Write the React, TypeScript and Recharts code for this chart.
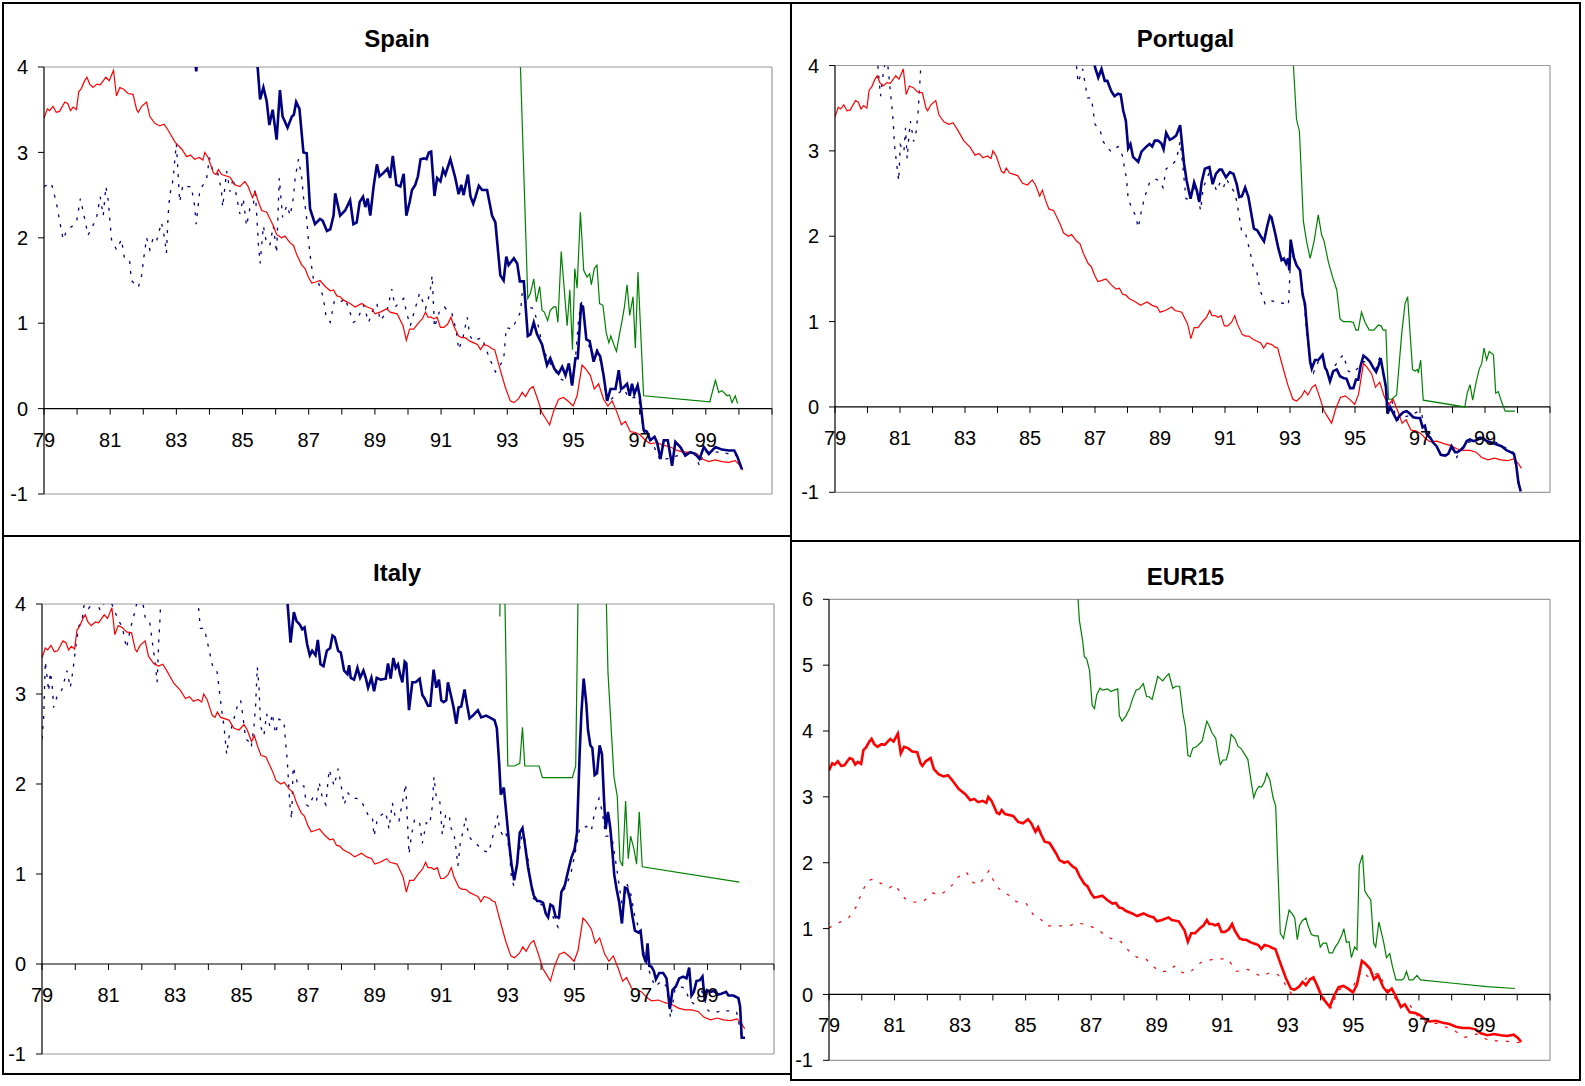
import React from 'react';
import { LineChart, Line, XAxis, YAxis, ReferenceLine } from 'recharts';

// [year, value] pairs, monthly-ish sampling
const convergence = [
  [1979.0, 3.4], [1979.1, 3.51], [1979.17, 3.49], [1979.27, 3.54], [1979.37, 3.47], [1979.47, 3.48], [1979.63, 3.59], [1979.72, 3.57], [1979.8, 3.49], [1979.88, 3.53], [1979.98, 3.5],
  [1980.05, 3.71], [1980.13, 3.75], [1980.23, 3.84], [1980.3, 3.88], [1980.38, 3.8], [1980.48, 3.76], [1980.6, 3.8], [1980.7, 3.79], [1980.87, 3.88], [1980.97, 3.84],
  [1981.1, 3.96], [1981.19, 3.66], [1981.29, 3.76], [1981.41, 3.74], [1981.54, 3.69], [1981.69, 3.68], [1981.8, 3.5], [1981.85, 3.47], [1981.95, 3.54],
  [1982.1, 3.59], [1982.2, 3.42], [1982.35, 3.34], [1982.5, 3.31], [1982.63, 3.33], [1982.75, 3.26], [1982.96, 3.12],
  [1983.16, 3.04], [1983.31, 2.95], [1983.43, 2.97], [1983.55, 2.92], [1983.69, 2.94], [1983.8, 2.91], [1983.86, 3.0], [1983.96, 2.94],
  [1984.12, 2.76], [1984.2, 2.74], [1984.27, 2.8], [1984.37, 2.74], [1984.62, 2.71], [1984.77, 2.62], [1984.92, 2.6],
  [1985.07, 2.66], [1985.17, 2.6], [1985.3, 2.47], [1985.38, 2.54], [1985.48, 2.42], [1985.58, 2.32], [1985.73, 2.3], [1985.83, 2.22], [1985.93, 2.14],
  [1986.03, 2.04], [1986.18, 2.0], [1986.28, 2.02], [1986.44, 1.94], [1986.54, 1.91], [1986.64, 1.8], [1986.79, 1.68], [1986.89, 1.64], [1986.99, 1.54],
  [1987.09, 1.47], [1987.19, 1.48], [1987.34, 1.5], [1987.5, 1.43], [1987.65, 1.38], [1987.75, 1.39], [1987.85, 1.32], [1987.95, 1.31],
  [1988.05, 1.27], [1988.25, 1.23], [1988.4, 1.19], [1988.6, 1.23], [1988.76, 1.19], [1988.91, 1.17],
  [1989.0, 1.11], [1989.16, 1.13], [1989.36, 1.17], [1989.46, 1.13], [1989.67, 1.11], [1989.85, 0.97], [1989.95, 0.8],
  [1990.05, 0.93], [1990.17, 0.93], [1990.33, 1.01], [1990.43, 1.05], [1990.53, 1.13], [1990.6, 1.07], [1990.7, 1.07], [1990.78, 1.05], [1990.88, 1.07], [1990.98, 0.95],
  [1991.08, 0.95], [1991.2, 0.99], [1991.3, 1.07], [1991.38, 0.97], [1991.53, 0.85], [1991.63, 0.83], [1991.73, 0.83], [1991.87, 0.79], [1991.99, 0.77],
  [1992.1, 0.75], [1992.19, 0.69], [1992.29, 0.75], [1992.44, 0.73], [1992.54, 0.7], [1992.62, 0.69], [1992.79, 0.45], [1992.94, 0.25],
  [1993.09, 0.09], [1993.2, 0.07], [1993.35, 0.12], [1993.45, 0.19], [1993.55, 0.14], [1993.68, 0.23], [1993.78, 0.26], [1993.9, 0.13],
  [1994.05, -0.05], [1994.15, -0.11], [1994.28, -0.19], [1994.4, -0.03], [1994.55, 0.11], [1994.7, 0.13], [1994.86, 0.08], [1994.99, 0.03],
  [1995.11, 0.15], [1995.26, 0.51], [1995.36, 0.47], [1995.51, 0.39], [1995.63, 0.23], [1995.76, 0.29], [1995.91, 0.11],
  [1996.04, 0.03], [1996.17, 0.09], [1996.32, -0.05], [1996.45, -0.19], [1996.57, -0.15], [1996.72, -0.27], [1996.87, -0.28],
  [1997.02, -0.31], [1997.17, -0.37], [1997.32, -0.41], [1997.52, -0.4], [1997.73, -0.43], [1997.93, -0.45],
  [1998.13, -0.49], [1998.33, -0.51], [1998.53, -0.51], [1998.73, -0.53], [1998.89, -0.59],
  [1999.09, -0.62], [1999.29, -0.6], [1999.49, -0.62], [1999.69, -0.63], [1999.89, -0.61], [2000.02, -0.66], [2000.12, -0.72],
];

const spainBlue = [
  [1979, 4.6], [1983.5, 4.4], [1983.6, 3.95], [1983.7, 4.4], [1985.3, 4.8],
  [1985.53, 3.62], [1985.63, 3.76], [1985.73, 3.6], [1985.81, 3.32], [1985.91, 3.5], [1986.03, 3.15], [1986.13, 3.73], [1986.21, 3.42], [1986.36, 3.29], [1986.49, 3.42], [1986.55, 3.44], [1986.62, 3.59], [1986.72, 3.51], [1986.84, 3.0], [1986.94, 2.99],
  [1987.04, 2.34], [1987.19, 2.16], [1987.34, 2.22], [1987.42, 2.2], [1987.55, 2.08], [1987.65, 2.1], [1987.75, 2.26], [1987.8, 2.52], [1987.95, 2.26],
  [1988.1, 2.32], [1988.25, 2.44], [1988.35, 2.16], [1988.45, 2.18], [1988.54, 2.42], [1988.64, 2.48], [1988.71, 2.36], [1988.78, 2.46], [1988.86, 2.26], [1988.96, 2.6],
  [1989.06, 2.86], [1989.14, 2.72], [1989.26, 2.76], [1989.38, 2.81], [1989.46, 2.7], [1989.54, 2.96], [1989.65, 2.62], [1989.77, 2.6], [1989.87, 2.75], [1989.95, 2.26],
  [1990.05, 2.42], [1990.12, 2.56], [1990.22, 2.62], [1990.3, 2.72], [1990.38, 2.92], [1990.48, 2.93], [1990.56, 2.92], [1990.63, 3.0], [1990.7, 3.01], [1990.8, 2.49], [1990.88, 2.7], [1990.98, 2.66],
  [1991.06, 2.8], [1991.13, 2.74], [1991.28, 2.92], [1991.43, 2.7], [1991.53, 2.51], [1991.61, 2.62], [1991.68, 2.5], [1991.81, 2.74], [1991.89, 2.48], [1991.97, 2.4],
  [1992.04, 2.48], [1992.14, 2.61], [1992.24, 2.56], [1992.39, 2.56], [1992.54, 2.26], [1992.64, 2.18], [1992.79, 1.56], [1992.89, 1.5], [1992.97, 1.78],
  [1993.04, 1.68], [1993.2, 1.76], [1993.3, 1.7], [1993.38, 1.49], [1993.5, 1.49], [1993.62, 0.85], [1993.7, 0.87], [1993.8, 1.01], [1993.9, 0.87],
  [1994.05, 0.75], [1994.2, 0.51], [1994.3, 0.59], [1994.42, 0.47], [1994.55, 0.41], [1994.66, 0.49], [1994.76, 0.39], [1994.86, 0.53], [1994.96, 0.27],
  [1995.06, 0.59], [1995.13, 0.59], [1995.23, 1.21], [1995.29, 1.19], [1995.39, 0.81], [1995.49, 0.79], [1995.61, 0.55], [1995.71, 0.67], [1995.81, 0.61], [1995.91, 0.39],
  [1996.02, 0.09], [1996.12, 0.23], [1996.27, 0.23], [1996.37, 0.45], [1996.44, 0.23], [1996.52, 0.25], [1996.62, 0.29], [1996.7, 0.15], [1996.77, 0.29], [1996.84, 0.17], [1996.94, 0.27],
  [1997.0, 0.15], [1997.12, -0.25], [1997.22, -0.27], [1997.32, -0.37], [1997.45, -0.33], [1997.53, -0.4], [1997.63, -0.59], [1997.73, -0.37], [1997.85, -0.37], [1997.98, -0.67],
  [1998.08, -0.39], [1998.23, -0.45], [1998.38, -0.55], [1998.53, -0.51], [1998.68, -0.53], [1998.81, -0.59], [1998.94, -0.45],
  [1999.09, -0.53], [1999.29, -0.45], [1999.49, -0.48], [1999.69, -0.49], [1999.86, -0.49], [1999.96, -0.57], [2000.09, -0.71],
];

const spainBlueDash = [
  [1979.0, 2.6], [1979.22, 2.64], [1979.37, 2.42], [1979.47, 2.2], [1979.58, 1.98], [1979.68, 2.08], [1979.98, 2.18],
  [1980.1, 2.46], [1980.23, 2.22], [1980.33, 2.03], [1980.58, 2.22], [1980.7, 2.48], [1980.79, 2.26], [1980.87, 2.6], [1980.94, 2.44],
  [1981.04, 1.98], [1981.19, 1.86], [1981.34, 1.98], [1981.44, 1.74], [1981.59, 1.72], [1981.64, 1.5], [1981.85, 1.42], [1981.95, 1.56],
  [1982.02, 1.78], [1982.1, 2.0], [1982.2, 1.86], [1982.3, 2.0], [1982.4, 1.96], [1982.55, 2.18], [1982.65, 1.98], [1982.7, 1.82], [1982.75, 2.26], [1982.8, 2.5], [1982.9, 2.68], [1982.95, 2.9],
  [1983.0, 3.1], [1983.1, 2.42], [1983.2, 2.62], [1983.3, 2.6], [1983.45, 2.6], [1983.55, 2.38], [1983.6, 2.16], [1983.71, 2.56], [1983.81, 2.62], [1983.91, 2.68],
  [1984.0, 2.94], [1984.1, 2.78], [1984.25, 2.76], [1984.36, 2.56], [1984.4, 2.36], [1984.52, 2.78], [1984.62, 2.54], [1984.72, 2.7], [1984.82, 2.48], [1984.92, 2.28],
  [1985.02, 2.46], [1985.12, 2.14], [1985.22, 2.34], [1985.32, 2.36], [1985.38, 2.58], [1985.48, 1.92], [1985.53, 1.7], [1985.63, 2.14], [1985.73, 1.92], [1985.83, 1.92], [1985.93, 2.14],
  [1986.03, 1.82], [1986.11, 2.7], [1986.21, 2.24], [1986.34, 2.38], [1986.44, 2.26], [1986.54, 2.48], [1986.59, 2.7], [1986.69, 2.92], [1986.79, 2.7], [1986.84, 2.48], [1986.92, 2.3], [1986.99, 1.98],
  [1987.06, 1.74], [1987.14, 1.52], [1987.29, 1.48], [1987.44, 1.3], [1987.52, 1.09], [1987.65, 1.01], [1987.77, 1.25], [1987.9, 1.23],
  [1988.1, 1.29], [1988.35, 1.01], [1988.45, 1.03], [1988.66, 1.21], [1988.81, 1.01], [1988.91, 1.13],
  [1989.06, 1.23], [1989.16, 1.03], [1989.36, 1.13], [1989.51, 1.4], [1989.61, 1.19], [1989.87, 1.29], [1989.95, 1.13],
  [1990.07, 0.97], [1990.2, 1.15], [1990.35, 1.35], [1990.53, 1.17], [1990.66, 1.35], [1990.73, 1.56], [1990.8, 0.95], [1990.96, 1.15],
  [1991.1, 1.19], [1991.23, 1.13], [1991.33, 1.11], [1991.46, 0.91], [1991.53, 0.69], [1991.66, 0.83], [1991.79, 1.07], [1991.87, 0.85], [1991.99, 0.79],
  [1992.09, 0.81], [1992.24, 0.83], [1992.44, 0.61], [1992.64, 0.43], [1992.89, 0.57], [1992.97, 0.95],
  [1993.14, 0.93], [1993.4, 1.13], [1993.45, 1.35], [1993.62, 1.19], [1993.8, 1.17], [1993.95, 0.95],
  [1994.05, 0.75], [1994.2, 0.59], [1994.4, 0.47], [1994.6, 0.35], [1994.8, 0.31], [1994.96, 0.31],
  [1995.06, 0.59], [1995.16, 1.07], [1995.26, 1.27], [1995.39, 0.83], [1995.56, 0.63], [1995.71, 0.71], [1995.86, 0.49],
  [1996.01, 0.07], [1996.52, 0.23], [1996.67, 0.13], [1996.97, 0.13],
  [1997.12, -0.27], [1997.32, -0.35], [1997.63, -0.61], [1997.98, -0.57], [1998.33, -0.53], [1998.63, -0.51], [1998.81, -0.67], [1998.94, -0.51],
  [1999.44, -0.51], [1999.94, -0.55], [2000.09, -0.71],
];

const spainGreen = [
  [1993.3, 5.2], [1993.62, 1.29], [1993.7, 1.35], [1993.8, 1.52], [1993.88, 1.25], [1993.98, 1.43],
  [1994.05, 1.15], [1994.12, 1.13], [1994.22, 1.03], [1994.3, 1.15], [1994.4, 1.19], [1994.47, 1.19], [1994.53, 1.01], [1994.63, 1.84], [1994.81, 0.97], [1994.89, 1.39], [1994.97, 0.69],
  [1995.04, 1.64], [1995.11, 1.41], [1995.21, 2.3], [1995.31, 1.62], [1995.41, 1.54], [1995.49, 1.58], [1995.54, 1.45], [1995.63, 1.64], [1995.71, 1.68], [1995.79, 1.23], [1995.89, 1.21], [1995.99, 0.89],
  [1996.07, 0.77], [1996.13, 0.85], [1996.22, 0.75], [1996.3, 0.67], [1996.4, 0.89], [1996.47, 1.03], [1996.54, 1.19], [1996.62, 1.45], [1996.7, 1.09], [1996.8, 1.31], [1996.87, 0.71], [1996.95, 1.6],
  [1997.12, 0.15], [1999.12, 0.08], [1999.29, 0.33], [1999.39, 0.19], [1999.49, 0.21], [1999.64, 0.15], [1999.72, 0.16], [1999.79, 0.07], [1999.89, 0.15], [1999.96, 0.06],
];

const portugalBlue = [
  [1979, 4.8], [1986.9, 4.6],
  [1987.0, 3.98], [1987.1, 3.86], [1987.2, 3.96], [1987.3, 3.82], [1987.38, 3.82], [1987.5, 3.7], [1987.6, 3.64], [1987.71, 3.67], [1987.79, 3.66], [1987.87, 3.47], [1987.95, 3.35],
  [1988.02, 3.03], [1988.09, 3.08], [1988.17, 2.93], [1988.33, 2.87], [1988.43, 2.99], [1988.58, 3.05], [1988.68, 3.08], [1988.76, 3.05], [1988.84, 3.12], [1988.94, 3.12],
  [1989.04, 3.09], [1989.11, 3.02], [1989.19, 3.21], [1989.3, 3.13], [1989.4, 3.15], [1989.5, 3.18], [1989.62, 3.3], [1989.74, 2.85], [1989.82, 2.65], [1989.94, 2.44],
  [1990.05, 2.63], [1990.13, 2.54], [1990.21, 2.4], [1990.28, 2.63], [1990.38, 2.79], [1990.52, 2.81], [1990.62, 2.61], [1990.72, 2.73], [1990.83, 2.78], [1990.9, 2.78],
  [1991.03, 2.69], [1991.15, 2.75], [1991.26, 2.73], [1991.36, 2.61], [1991.44, 2.46], [1991.52, 2.47], [1991.62, 2.57], [1991.72, 2.46], [1991.82, 2.24], [1991.89, 2.09], [1991.99, 2.07],
  [1992.1, 2.0], [1992.2, 1.94], [1992.3, 2.12], [1992.38, 2.24], [1992.43, 2.22], [1992.54, 2.04], [1992.64, 1.86], [1992.74, 1.72], [1992.81, 1.74], [1992.88, 1.68], [1992.94, 1.74], [1992.98, 1.6],
  [1993.02, 1.96], [1993.12, 1.75], [1993.2, 1.66], [1993.31, 1.6], [1993.39, 1.31], [1993.46, 1.21], [1993.53, 0.89], [1993.62, 0.53], [1993.67, 0.45], [1993.77, 0.55], [1993.87, 0.55],
  [1994.0, 0.61], [1994.08, 0.46], [1994.13, 0.43], [1994.23, 0.3], [1994.33, 0.42], [1994.44, 0.44], [1994.54, 0.36], [1994.64, 0.34], [1994.74, 0.33], [1994.85, 0.22], [1994.95, 0.22],
  [1995.03, 0.32], [1995.1, 0.32], [1995.17, 0.48], [1995.26, 0.6], [1995.36, 0.57], [1995.46, 0.53], [1995.56, 0.46], [1995.65, 0.41], [1995.72, 0.48], [1995.79, 0.57], [1995.87, 0.4], [1995.95, 0.24],
  [1996.0, -0.08], [1996.08, 0.0], [1996.16, -0.06], [1996.28, -0.15], [1996.38, -0.1], [1996.49, -0.06], [1996.59, -0.05], [1996.69, -0.08], [1996.79, -0.12], [1996.92, -0.13],
  [1997.0, -0.13], [1997.08, -0.24], [1997.15, -0.22], [1997.21, -0.32], [1997.31, -0.36], [1997.41, -0.42], [1997.51, -0.46], [1997.64, -0.56], [1997.77, -0.57], [1997.87, -0.55], [1997.97, -0.46],
  [1998.08, -0.53], [1998.15, -0.53], [1998.23, -0.51], [1998.33, -0.48], [1998.44, -0.4], [1998.54, -0.38], [1998.64, -0.4], [1998.74, -0.39], [1998.85, -0.36], [1998.95, -0.37],
  [1999.05, -0.4], [1999.21, -0.42], [1999.36, -0.44], [1999.51, -0.46], [1999.67, -0.51], [1999.79, -0.53], [1999.89, -0.55], [1999.95, -0.65], [2000.03, -0.89], [2000.1, -0.99],
];

const portugalBlueDash = [
  [1979, 4.5], [1980.25, 4.3], [1980.4, 3.64], [1980.5, 3.96], [1980.6, 4.1], [1980.74, 3.56], [1980.79, 3.35], [1980.83, 3.07], [1980.89, 2.87], [1980.96, 2.65],
  [1981.01, 3.07], [1981.12, 2.99], [1981.17, 3.27], [1981.22, 2.91], [1981.27, 3.15], [1981.32, 3.35], [1981.42, 3.11], [1981.5, 3.23], [1981.56, 3.47], [1981.63, 3.92], [1981.7, 4.4],
  [1986.35, 4.3], [1986.48, 3.8], [1986.62, 3.96], [1986.77, 3.62], [1986.89, 3.62],
  [1987.0, 3.31], [1987.15, 3.25], [1987.25, 3.11], [1987.4, 3.03], [1987.5, 2.99], [1987.71, 3.05], [1987.84, 2.95], [1987.97, 2.67],
  [1988.02, 2.44], [1988.12, 2.34], [1988.25, 2.24], [1988.33, 2.1], [1988.43, 2.3], [1988.53, 2.46], [1988.68, 2.63], [1988.84, 2.67], [1988.99, 2.65],
  [1989.09, 2.57], [1989.19, 2.79], [1989.35, 2.83], [1989.5, 2.89], [1989.62, 3.11], [1989.7, 2.83], [1989.8, 2.44], [1989.88, 2.43],
  [1990.05, 2.59], [1990.18, 2.43], [1990.25, 2.3], [1990.33, 2.57], [1990.52, 2.75], [1990.64, 2.65], [1990.74, 2.53], [1990.85, 2.63], [1990.95, 2.57],
  [1991.05, 2.67], [1991.15, 2.59], [1991.31, 2.51], [1991.41, 2.3], [1991.51, 2.06], [1991.62, 2.05], [1991.77, 1.82], [1991.87, 1.64], [1991.97, 1.6],
  [1992.08, 1.37], [1992.23, 1.21], [1992.38, 1.25], [1992.54, 1.23], [1992.69, 1.22], [1992.85, 1.21], [1992.95, 1.19], [1992.98, 1.41],
  [1993.02, 1.78], [1993.12, 1.76], [1993.2, 1.66], [1993.31, 1.58], [1993.41, 1.33], [1993.51, 0.89], [1993.62, 0.53], [1993.72, 0.4], [1993.87, 0.53],
  [1994.03, 0.51], [1994.13, 0.42], [1994.23, 0.32], [1994.38, 0.48], [1994.54, 0.57], [1994.64, 0.61], [1994.79, 0.42], [1994.95, 0.4],
  [1995.1, 0.46], [1995.26, 0.53], [1995.46, 0.53], [1995.62, 0.42], [1995.77, 0.59], [1995.92, 0.28],
  [1996.03, 0.02], [1996.13, 0.08], [1996.28, -0.16], [1996.49, -0.12], [1996.69, -0.1], [1996.9, -0.06],
  [1997.05, -0.06], [1997.12, -0.26], [1997.26, -0.28], [1997.41, -0.42], [1997.62, -0.53], [1997.82, -0.57], [1997.97, -0.48],
  [1998.13, -0.59], [1998.28, -0.48], [1998.44, -0.42], [1998.64, -0.4], [1998.79, -0.36], [1999.0, -0.34], [1999.36, -0.42], [1999.87, -0.53], [2000.03, -0.87], [2000.1, -0.97],
];

const portugalGreen = [
  [1993.0, 4.7], [1993.2, 3.37], [1993.29, 3.23], [1993.36, 2.63], [1993.41, 2.18], [1993.51, 1.94], [1993.62, 1.74], [1993.74, 1.94], [1993.87, 2.25], [1993.97, 2.02],
  [1994.05, 1.94], [1994.18, 1.7], [1994.31, 1.52], [1994.44, 1.37], [1994.54, 1.03], [1994.64, 1.0], [1994.85, 1.0], [1994.95, 0.99],
  [1995.03, 0.9], [1995.1, 0.9], [1995.2, 1.11], [1995.31, 0.99], [1995.44, 0.9], [1995.58, 0.9], [1995.72, 0.96], [1995.8, 0.95], [1995.87, 0.9], [1995.95, 0.9],
  [1996.03, 0.09], [1996.13, 0.09], [1996.28, 0.14], [1996.44, 0.87], [1996.54, 1.21], [1996.62, 1.29], [1996.69, 0.89], [1996.77, 0.44], [1996.85, 0.42], [1996.92, 0.44], [1996.95, 0.4],
  [1997.02, 0.55], [1997.1, 0.08], [1998.38, 0.0], [1998.45, 0.16], [1998.54, 0.26], [1998.62, 0.08], [1998.72, 0.28], [1998.82, 0.44], [1998.9, 0.51], [1998.97, 0.69],
  [1999.05, 0.55], [1999.13, 0.65], [1999.26, 0.61], [1999.33, 0.16], [1999.41, 0.18], [1999.51, 0.06], [1999.62, -0.05], [1999.92, -0.05],
];

const italyBlue = [
  [1979, 4.8], [1986.32, 4.3],
  [1986.47, 3.57], [1986.57, 3.91], [1986.65, 3.81], [1986.75, 3.77], [1986.82, 3.72], [1986.89, 3.74], [1986.97, 3.55],
  [1987.05, 3.43], [1987.12, 3.48], [1987.22, 3.43], [1987.29, 3.6], [1987.37, 3.33], [1987.46, 3.31], [1987.56, 3.48], [1987.66, 3.51], [1987.73, 3.65], [1987.8, 3.63], [1987.9, 3.48], [1987.98, 3.46],
  [1988.08, 3.26], [1988.18, 3.22], [1988.23, 3.32], [1988.28, 3.18], [1988.38, 3.16], [1988.48, 3.29], [1988.56, 3.18], [1988.66, 3.26], [1988.73, 3.18], [1988.8, 3.07], [1988.9, 3.18], [1988.98, 3.03],
  [1989.06, 3.18], [1989.18, 3.16], [1989.33, 3.17], [1989.4, 3.34], [1989.48, 3.17], [1989.56, 3.4], [1989.63, 3.29], [1989.7, 3.33], [1989.76, 3.22], [1989.83, 3.13], [1989.9, 3.36], [1989.95, 3.34],
  [1990.03, 2.82], [1990.13, 3.13], [1990.23, 3.13], [1990.35, 3.17], [1990.43, 2.99], [1990.5, 2.95], [1990.6, 2.87], [1990.67, 2.87], [1990.77, 3.27], [1990.85, 3.07], [1990.93, 3.16],
  [1991.0, 2.93], [1991.07, 2.91], [1991.15, 2.93], [1991.2, 3.13], [1991.3, 2.97], [1991.37, 2.85], [1991.45, 2.67], [1991.52, 2.85], [1991.6, 2.86], [1991.7, 3.05], [1991.77, 2.89], [1991.85, 2.73], [1991.95, 2.76],
  [1992.1, 2.82], [1992.2, 2.74], [1992.35, 2.76], [1992.45, 2.74], [1992.6, 2.71], [1992.67, 2.62], [1992.74, 2.23], [1992.79, 1.88], [1992.88, 1.96], [1992.96, 1.65],
  [1993.04, 1.34], [1993.11, 1.11], [1993.19, 0.93], [1993.28, 1.11], [1993.36, 1.46], [1993.44, 1.51], [1993.51, 1.34], [1993.61, 1.07], [1993.71, 0.87], [1993.78, 0.76], [1993.88, 0.7], [1993.96, 0.7],
  [1994.06, 0.68], [1994.14, 0.56], [1994.21, 0.52], [1994.28, 0.66], [1994.36, 0.64], [1994.44, 0.52], [1994.54, 0.52], [1994.61, 0.8], [1994.71, 0.87], [1994.81, 1.03], [1994.91, 1.18],
  [1995.01, 1.28], [1995.08, 1.46], [1995.16, 2.35], [1995.21, 2.78], [1995.28, 3.17], [1995.36, 2.89], [1995.41, 2.6], [1995.48, 2.43], [1995.54, 2.4], [1995.61, 2.1], [1995.68, 2.12], [1995.76, 2.43], [1995.83, 2.33], [1995.89, 1.84], [1995.94, 1.5],
  [1996.01, 1.69], [1996.08, 1.51], [1996.14, 1.26], [1996.2, 0.99], [1996.27, 0.83], [1996.35, 0.68], [1996.43, 0.45], [1996.52, 0.85], [1996.59, 0.84], [1996.67, 0.72], [1996.75, 0.52], [1996.82, 0.37], [1996.92, 0.35], [1996.99, 0.37],
  [1997.07, 0.1], [1997.15, 0.02], [1997.2, 0.23], [1997.25, -0.02], [1997.32, -0.03], [1997.39, -0.08], [1997.45, -0.17], [1997.55, -0.1], [1997.67, -0.1], [1997.77, -0.16], [1997.87, -0.5], [1997.95, -0.29],
  [1998.05, -0.25], [1998.15, -0.16], [1998.27, -0.14], [1998.37, -0.16], [1998.45, -0.04], [1998.52, -0.35], [1998.59, -0.31], [1998.67, -0.19], [1998.77, -0.18], [1998.85, -0.14], [1998.92, -0.41], [1998.99, -0.29],
  [1999.09, -0.31], [1999.19, -0.3], [1999.32, -0.34], [1999.42, -0.33], [1999.56, -0.31], [1999.63, -0.35], [1999.78, -0.35], [1999.93, -0.38], [1999.98, -0.47], [2000.03, -0.82], [2000.13, -0.82],
];

const italyBlueDash = [
  [1979.0, 2.5], [1979.05, 2.74], [1979.1, 3.36], [1979.15, 3.2], [1979.2, 3.03], [1979.25, 3.24], [1979.3, 3.13], [1979.35, 2.85], [1979.45, 2.97], [1979.6, 3.05], [1979.75, 3.26], [1979.85, 3.07], [1979.93, 3.26],
  [1980.0, 3.48], [1980.1, 3.75], [1980.2, 3.81], [1980.27, 4.0], [1980.4, 3.95], [1980.6, 4.05], [1980.75, 3.93], [1981.0, 4.1],
  [1981.16, 3.94], [1981.31, 3.81], [1981.41, 3.75], [1981.54, 3.51], [1981.66, 3.73], [1981.81, 3.94], [1981.95, 4.2],
  [1982.11, 3.83], [1982.24, 3.79], [1982.34, 3.51], [1982.41, 3.32], [1982.46, 3.13], [1982.51, 3.59], [1982.54, 3.79], [1982.6, 4.3], [1983.6, 4.3],
  [1983.71, 3.94], [1983.76, 3.73], [1983.88, 3.73], [1984.01, 3.51], [1984.12, 3.32], [1984.25, 3.28], [1984.32, 3.07], [1984.39, 2.85], [1984.47, 2.64], [1984.55, 2.33], [1984.62, 2.52], [1984.75, 2.7], [1984.89, 2.89], [1984.97, 2.93],
  [1985.05, 2.72], [1985.12, 2.5], [1985.22, 2.47], [1985.29, 2.41], [1985.37, 2.64], [1985.42, 2.87], [1985.47, 3.3], [1985.52, 3.09], [1985.57, 2.64], [1985.67, 2.54], [1985.75, 2.78], [1985.85, 2.64], [1985.92, 2.78],
  [1986.02, 2.56], [1986.12, 2.72], [1986.27, 2.7], [1986.32, 2.47], [1986.37, 2.27], [1986.4, 2.08], [1986.45, 1.77], [1986.5, 1.61], [1986.55, 2.19], [1986.67, 2.02], [1986.77, 1.98], [1986.87, 1.98], [1986.95, 1.77],
  [1987.02, 1.75], [1987.15, 1.86], [1987.25, 1.81], [1987.33, 2.02], [1987.43, 1.84], [1987.53, 1.77], [1987.63, 2.16], [1987.78, 1.98], [1987.9, 2.17],
  [1988.0, 1.96], [1988.08, 1.77], [1988.2, 1.9], [1988.33, 1.84], [1988.46, 1.84], [1988.6, 1.81], [1988.73, 1.71], [1988.83, 1.63], [1988.93, 1.63], [1988.98, 1.42],
  [1989.08, 1.61], [1989.18, 1.65], [1989.33, 1.69], [1989.43, 1.5], [1989.53, 1.79], [1989.63, 1.61], [1989.73, 1.59], [1989.83, 1.79], [1989.93, 2.0],
  [1990.03, 1.22], [1990.1, 1.42], [1990.2, 1.61], [1990.35, 1.57], [1990.43, 1.34], [1990.55, 1.57], [1990.65, 1.55], [1990.73, 1.75], [1990.78, 2.08], [1990.85, 1.86], [1990.95, 1.84],
  [1991.03, 1.44], [1991.13, 1.65], [1991.23, 1.67], [1991.3, 1.5], [1991.37, 1.48], [1991.45, 1.26], [1991.5, 1.09], [1991.57, 1.34], [1991.67, 1.5], [1991.73, 1.63], [1991.83, 1.42], [1991.95, 1.36],
  [1992.1, 1.32], [1992.25, 1.26], [1992.43, 1.24], [1992.55, 1.42], [1992.65, 1.57], [1992.7, 1.65], [1992.75, 1.5], [1992.86, 1.42], [1992.94, 1.46],
  [1993.04, 1.28], [1993.11, 0.95], [1993.18, 0.87], [1993.31, 1.18], [1993.46, 1.5], [1993.61, 1.15], [1993.74, 0.74], [1993.91, 0.68],
  [1994.11, 0.64], [1994.26, 0.64], [1994.41, 0.47], [1994.51, 0.41], [1994.61, 0.78], [1994.76, 0.87], [1994.91, 1.03],
  [1995.06, 1.3], [1995.16, 1.51], [1995.26, 1.51], [1995.36, 1.53], [1995.51, 1.48], [1995.61, 1.69], [1995.74, 1.84], [1995.84, 1.69], [1995.94, 1.42],
  [1996.07, 1.42], [1996.15, 1.36], [1996.27, 1.07], [1996.39, 0.76], [1996.47, 0.58], [1996.57, 0.89], [1996.67, 0.83], [1996.82, 0.52], [1996.97, 0.37],
  [1997.12, 0.06], [1997.27, -0.1], [1997.42, -0.25], [1997.62, -0.19], [1997.77, -0.25], [1997.89, -0.6],
  [1998.02, -0.29], [1998.17, -0.25], [1998.32, -0.27], [1998.47, -0.41], [1998.62, -0.45], [1998.82, -0.29],
  [1999.02, -0.52], [1999.22, -0.54], [1999.42, -0.52], [1999.68, -0.52], [1999.88, -0.54], [2000.03, -0.82],
];

const italyGreen = [
  [1992.76, 3.86], [1992.82, 6.0], [1993.0, 2.2], [1993.2, 2.2], [1993.36, 2.23], [1993.44, 2.63], [1993.51, 2.2], [1993.94, 2.2],
  [1994.04, 2.07], [1994.94, 2.07], [1995.04, 2.2], [1995.2, 6.5], [1995.5, 6.0], [1995.9, 5.0],
  [1996.01, 3.24], [1996.19, 2.08], [1996.29, 1.86], [1996.37, 1.15], [1996.45, 1.09], [1996.54, 1.81], [1996.62, 1.17], [1996.69, 1.42], [1996.79, 1.28], [1996.87, 1.11], [1996.95, 1.69],
  [1997.04, 1.08], [1999.96, 0.91],
];

const eurGreen = [
  [1986.5, 6.8], [1986.64, 5.68], [1986.74, 5.37], [1986.79, 5.13], [1986.86, 5.1], [1986.95, 4.92],
  [1987.03, 4.39], [1987.1, 4.34], [1987.17, 4.55], [1987.27, 4.65], [1987.35, 4.62], [1987.5, 4.64], [1987.6, 4.6], [1987.7, 4.62], [1987.81, 4.64], [1987.86, 4.23], [1987.94, 4.15],
  [1988.06, 4.23], [1988.17, 4.34], [1988.27, 4.5], [1988.37, 4.62], [1988.47, 4.64], [1988.59, 4.72], [1988.69, 4.52], [1988.77, 4.52], [1988.86, 4.48], [1988.96, 4.68],
  [1989.03, 4.83], [1989.1, 4.8], [1989.18, 4.76], [1989.26, 4.81], [1989.37, 4.87], [1989.49, 4.65], [1989.59, 4.68], [1989.7, 4.68], [1989.8, 4.26], [1989.88, 4.05], [1989.95, 3.63],
  [1990.02, 3.61], [1990.1, 3.74], [1990.21, 3.76], [1990.31, 3.81], [1990.39, 3.85], [1990.46, 4.01], [1990.53, 4.15], [1990.61, 4.07], [1990.69, 3.97], [1990.8, 3.89], [1990.87, 3.67], [1990.94, 3.49],
  [1991.02, 3.56], [1991.12, 3.56], [1991.2, 3.7], [1991.27, 3.95], [1991.38, 3.89], [1991.48, 3.77], [1991.58, 3.73], [1991.68, 3.65], [1991.78, 3.57], [1991.89, 3.2], [1991.96, 2.99],
  [1992.04, 3.1], [1992.12, 3.16], [1992.2, 3.15], [1992.29, 3.23], [1992.36, 3.36], [1992.45, 3.26], [1992.55, 2.99], [1992.63, 2.86], [1992.7, 1.88], [1992.77, 0.93], [1992.87, 0.85], [1992.96, 1.09],
  [1993.04, 1.28], [1993.14, 1.22], [1993.21, 1.16], [1993.29, 0.83], [1993.36, 1.05], [1993.44, 1.12], [1993.55, 1.16], [1993.62, 1.04], [1993.72, 0.91], [1993.82, 0.89], [1993.92, 0.89], [1993.99, 0.72],
  [1994.08, 0.78], [1994.18, 0.78], [1994.26, 0.63], [1994.36, 0.63], [1994.46, 0.73], [1994.53, 0.78], [1994.64, 0.89], [1994.71, 1.0], [1994.79, 0.79], [1994.87, 0.8], [1994.94, 0.56],
  [1995.04, 0.72], [1995.11, 0.68], [1995.18, 1.96], [1995.28, 2.12], [1995.35, 1.57], [1995.45, 1.49], [1995.53, 1.44], [1995.62, 0.78], [1995.68, 0.72], [1995.78, 1.1], [1995.86, 0.93], [1995.93, 0.78],
  [1996.01, 0.56], [1996.11, 0.62], [1996.19, 0.43], [1996.3, 0.22], [1996.47, 0.22], [1996.54, 0.24], [1996.62, 0.35], [1996.7, 0.22], [1996.82, 0.22], [1996.94, 0.29],
  [1997.05, 0.22], [1998.05, 0.17], [1999.07, 0.12], [1999.93, 0.09],
];

const eurRedDash = [
  [1979.0, 1.01], [1979.3, 1.09], [1979.58, 1.15], [1979.83, 1.33], [1980.02, 1.57], [1980.19, 1.73], [1980.34, 1.75], [1980.65, 1.67], [1980.85, 1.62],
  [1981.0, 1.67], [1981.15, 1.57], [1981.31, 1.46], [1981.56, 1.4], [1981.87, 1.41], [1982.17, 1.54], [1982.37, 1.51], [1982.58, 1.57], [1982.78, 1.67], [1982.93, 1.78],
  [1983.19, 1.86], [1983.39, 1.7], [1983.59, 1.67], [1983.88, 1.88], [1984.0, 1.75], [1984.15, 1.62], [1984.36, 1.54], [1984.56, 1.49], [1984.71, 1.41],
  [1985.02, 1.38], [1985.22, 1.22], [1985.42, 1.17], [1985.63, 1.04], [1985.83, 1.04], [1986.13, 1.04], [1986.34, 1.04], [1986.54, 1.09], [1986.74, 1.07],
  [1987.0, 1.03], [1987.2, 0.99], [1987.46, 0.88], [1987.71, 0.83], [1987.91, 0.8], [1988.22, 0.62], [1988.42, 0.56], [1988.67, 0.54], [1988.88, 0.43],
  [1989.08, 0.35], [1989.34, 0.35], [1989.54, 0.43], [1989.79, 0.33], [1990.0, 0.33], [1990.36, 0.49], [1990.77, 0.54], [1991.17, 0.54], [1991.43, 0.35], [1991.78, 0.38],
  [1992.19, 0.27], [1992.45, 0.33], [1992.7, 0.3], [1992.9, 0.17], [1993.11, 0.01], [1993.36, 0.14], [1993.67, 0.3], [1993.92, 0.12],
  [1994.18, -0.12], [1994.33, -0.2], [1994.53, 0.06], [1994.74, 0.12], [1994.94, 0.04], [1995.04, 0.17], [1995.25, 0.35], [1995.5, 0.25], [1995.76, 0.33],
  [1996.01, 0.09], [1996.21, -0.02], [1996.47, -0.17], [1996.67, -0.12], [1996.93, -0.31], [1997.23, -0.44], [1997.54, -0.44],
  [1998.05, -0.54], [1998.4, -0.65], [1998.76, -0.6], [1999.17, -0.71], [1999.57, -0.7], [1999.88, -0.73], [2000.08, -0.73],
];

const yearTicks = Array.from({ length: 23 }, (_, i) => 1979 + i);

const RED = '#FF0000';
const NAVY = '#000080';
const GREEN = '#008000';
const FRAME = '#9A9A9A';
const FONT = '"Liberation Sans", Arial, sans-serif';

const toPts = (arr) => arr.map(([t, v]) => ({ t, v }));

const YW = 40;
const XH = 20;

function Panel({ box, plot, yMin, yMax, title, titleBase, lines }) {
  const W = box[2] - box[0];
  const H = box[3] - box[1];
  const margin = {
    top: plot[1] - box[1],
    left: plot[0] - box[0] - YW,
    right: box[2] - plot[2],
    bottom: box[3] - plot[3] - XH,
  };
  const plotH = plot[3] - plot[1];
  const y0 = margin.top + (plotH * yMax) / (yMax - yMin);
  const yTicks = [];
  for (let v = yMin; v <= yMax; v++) yTicks.push(v);

  const xTick = (p) => {
    const yr = p.payload.value;
    const showLabel = yr % 2 === 1 && yr < 2001;
    return (
      <g>
        <line x1={p.x} x2={p.x} y1={y0} y2={y0 + 6} stroke="#000" strokeWidth={1} />
        {showLabel ? (
          <text x={p.x} y={y0 + 38} textAnchor="middle" fontSize={20} fill="#000" fontFamily={FONT}>
            {String(yr % 100).padStart(2, '0')}
          </text>
        ) : null}
      </g>
    );
  };

  return (
    <>
      <div
        style={{
          position: 'absolute', left: box[0], top: box[1], width: W, height: H,
          border: '2px solid #000', boxSizing: 'border-box',
        }}
      />
      <div
        style={{
          position: 'absolute', left: box[0], top: titleBase - 20, width: W, textAlign: 'center',
          fontSize: 24, lineHeight: '24px', fontWeight: 'bold', fontFamily: FONT, color: '#000',
        }}
      >
        {title}
      </div>
      <div style={{ position: 'absolute', left: box[0], top: box[1] }}>
        <LineChart width={W} height={H} margin={margin}>
          <XAxis
            type="number"
            dataKey="t"
            domain={[1979, 2001]}
            ticks={yearTicks}
            interval={0}
            allowDataOverflow
            axisLine={false}
            tickLine={false}
            tick={xTick}
            height={XH}
          />
          <YAxis
            type="number"
            domain={[yMin, yMax]}
            ticks={yTicks}
            interval={0}
            allowDataOverflow
            width={YW}
            axisLine={{ stroke: '#000', strokeWidth: 1.2 }}
            tickLine={{ stroke: '#000' }}
            tickSize={6}
            tickMargin={10}
            tick={{ fontSize: 20, fill: '#000', fontFamily: FONT }}
          />
          <ReferenceLine y={yMax} stroke={FRAME} strokeWidth={1.2} />
          <ReferenceLine y={yMin} stroke={FRAME} strokeWidth={1.2} />
          <ReferenceLine x={2001} stroke={FRAME} strokeWidth={1.2} />
          <ReferenceLine y={0} stroke="#000" strokeWidth={1.2} />
          {lines.map((l, i) => (
            <Line
              key={i}
              data={toPts(l.data)}
              dataKey="v"
              type="linear"
              stroke={l.color}
              strokeWidth={l.width}
              strokeDasharray={l.dash}
              dot={false}
              activeDot={false}
              isAnimationActive={false}
            />
          ))}
        </LineChart>
      </div>
    </>
  );
}

export default function App() {
  const thinRed = { data: convergence, color: RED, width: 1.2 };
  return (
    <div style={{ position: 'absolute', left: 0, top: 0, width: 1585, height: 1086, background: '#fff', overflow: 'hidden' }}>
      <Panel
        box={[2, 2, 792, 537]}
        plot={[44, 67, 772, 494]}
        yMin={-1}
        yMax={4}
        title="Spain"
        titleBase={47}
        lines={[
          { data: spainBlueDash, color: NAVY, width: 1.3, dash: '3 7' },
          { data: spainGreen, color: GREEN, width: 1.2 },
          thinRed,
          { data: spainBlue, color: NAVY, width: 2.6 },
        ]}
      />
      <Panel
        box={[790, 2, 1581, 542]}
        plot={[835, 65.5, 1550, 492.3]}
        yMin={-1}
        yMax={4}
        title="Portugal"
        titleBase={47}
        lines={[
          { data: portugalBlueDash, color: NAVY, width: 1.3, dash: '3 7' },
          { data: portugalGreen, color: GREEN, width: 1.2 },
          thinRed,
          { data: portugalBlue, color: NAVY, width: 2.6 },
        ]}
      />
      <Panel
        box={[2, 535, 792, 1075]}
        plot={[42, 604, 774, 1054]}
        yMin={-1}
        yMax={4}
        title="Italy"
        titleBase={581}
        lines={[
          { data: italyBlueDash, color: NAVY, width: 1.3, dash: '3 7' },
          { data: italyGreen, color: GREEN, width: 1.2 },
          thinRed,
          { data: italyBlue, color: NAVY, width: 2.6 },
        ]}
      />
      <Panel
        box={[790, 540, 1581, 1081]}
        plot={[829, 599.3, 1550, 1060.3]}
        yMin={-1}
        yMax={6}
        title="EUR15"
        titleBase={585}
        lines={[
          { data: eurRedDash, color: RED, width: 1.2, dash: '3 8' },
          { data: eurGreen, color: GREEN, width: 1.2 },
          { data: convergence, color: RED, width: 2.6 },
        ]}
      />
    </div>
  );
}
